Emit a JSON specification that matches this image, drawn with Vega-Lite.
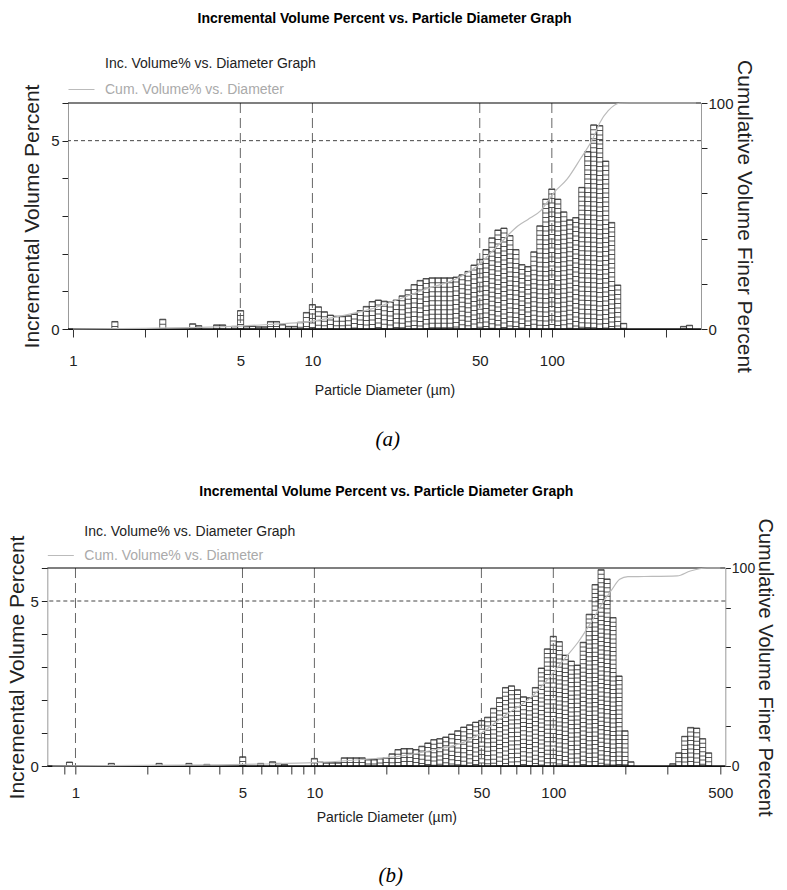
{
  "$schema": "https://vega.github.io/schema/vega-lite/v6.json",
  "padding": {"left": 6, "top": 11, "right": 0, "bottom": 0},
  "background": "white",
  "config": {"view": {"stroke": null}, "font": "Liberation Sans"},
  "datasets": {
    "barsA": [
      {"d": 1.496, "v": 0.20}, {"d": 2.371, "v": 0.26}, {"d": 3.162, "v": 0.14}, {"d": 3.350, "v": 0.09},
      {"d": 3.981, "v": 0.11}, {"d": 4.217, "v": 0.11}, {"d": 4.732, "v": 0.07}, {"d": 5.012, "v": 0.49},
      {"d": 5.309, "v": 0.07}, {"d": 5.623, "v": 0.08}, {"d": 5.957, "v": 0.06}, {"d": 6.310, "v": 0.06},
      {"d": 6.683, "v": 0.20}, {"d": 7.080, "v": 0.20}, {"d": 7.499, "v": 0.12}, {"d": 7.943, "v": 0.07},
      {"d": 8.414, "v": 0.07}, {"d": 8.913, "v": 0.18}, {"d": 9.441, "v": 0.44}, {"d": 10.0, "v": 0.65},
      {"d": 10.59, "v": 0.59}, {"d": 11.22, "v": 0.46}, {"d": 11.89, "v": 0.37}, {"d": 12.59, "v": 0.34},
      {"d": 13.34, "v": 0.34}, {"d": 14.13, "v": 0.35}, {"d": 14.96, "v": 0.40}, {"d": 15.85, "v": 0.49},
      {"d": 16.79, "v": 0.60}, {"d": 17.78, "v": 0.73}, {"d": 18.84, "v": 0.77}, {"d": 19.95, "v": 0.74},
      {"d": 21.14, "v": 0.72}, {"d": 22.39, "v": 0.77}, {"d": 23.71, "v": 0.88}, {"d": 25.12, "v": 1.04},
      {"d": 26.61, "v": 1.18}, {"d": 28.18, "v": 1.29}, {"d": 29.85, "v": 1.34}, {"d": 31.62, "v": 1.36},
      {"d": 33.50, "v": 1.36}, {"d": 35.48, "v": 1.36}, {"d": 37.58, "v": 1.36}, {"d": 39.81, "v": 1.38},
      {"d": 42.17, "v": 1.44}, {"d": 44.67, "v": 1.53}, {"d": 47.32, "v": 1.70}, {"d": 50.12, "v": 1.85},
      {"d": 53.09, "v": 2.11}, {"d": 56.23, "v": 2.42}, {"d": 59.57, "v": 2.63}, {"d": 63.10, "v": 2.68},
      {"d": 66.83, "v": 2.48}, {"d": 70.79, "v": 2.11}, {"d": 74.99, "v": 1.71}, {"d": 79.43, "v": 1.66},
      {"d": 84.14, "v": 2.05}, {"d": 89.13, "v": 2.74}, {"d": 94.41, "v": 3.45}, {"d": 100.0, "v": 3.72},
      {"d": 105.9, "v": 3.45}, {"d": 112.2, "v": 3.11}, {"d": 118.9, "v": 2.90}, {"d": 125.9, "v": 2.96},
      {"d": 133.4, "v": 3.76}, {"d": 141.3, "v": 4.71}, {"d": 149.6, "v": 5.42}, {"d": 158.5, "v": 5.40},
      {"d": 167.9, "v": 4.46}, {"d": 177.8, "v": 2.83}, {"d": 188.4, "v": 1.17}, {"d": 199.5, "v": 0.15},
      {"d": 354.8, "v": 0.07}, {"d": 375.8, "v": 0.10}
    ],
    "cumA": [
      {"d": 1, "c": 0}, {"d": 2, "c": 0.3}, {"d": 3, "c": 0.6}, {"d": 4, "c": 0.9}, {"d": 5, "c": 1.3},
      {"d": 7, "c": 2.2}, {"d": 9.2, "c": 3.0}, {"d": 12.9, "c": 5.6}, {"d": 17.5, "c": 8.8},
      {"d": 21.8, "c": 12.3}, {"d": 29.9, "c": 17.7}, {"d": 39.7, "c": 22.1}, {"d": 43.7, "c": 24.5},
      {"d": 48, "c": 27.3}, {"d": 61.5, "c": 38.5}, {"d": 72.3, "c": 45.7}, {"d": 79.5, "c": 48.5},
      {"d": 89.9, "c": 52.4}, {"d": 102.3, "c": 60.5}, {"d": 116, "c": 66.4}, {"d": 131.5, "c": 75.2},
      {"d": 149.3, "c": 84.8}, {"d": 158.9, "c": 91.4}, {"d": 172, "c": 96.6}, {"d": 192, "c": 99.9},
      {"d": 210, "c": 100}, {"d": 400, "c": 100}
    ],
    "gridA": [{"d": 5}, {"d": 10}, {"d": 50}, {"d": 100}],
    "barsB": [
      {"d": 0.944, "v": 0.12}, {"d": 1.413, "v": 0.08}, {"d": 2.239, "v": 0.08}, {"d": 2.985, "v": 0.08},
      {"d": 3.548, "v": 0.05}, {"d": 5.012, "v": 0.28}, {"d": 5.957, "v": 0.08}, {"d": 6.683, "v": 0.13},
      {"d": 7.080, "v": 0.08}, {"d": 7.499, "v": 0.05}, {"d": 10.0, "v": 0.23}, {"d": 10.59, "v": 0.12},
      {"d": 11.22, "v": 0.10}, {"d": 11.89, "v": 0.10}, {"d": 12.59, "v": 0.10}, {"d": 13.34, "v": 0.25},
      {"d": 14.13, "v": 0.25}, {"d": 14.96, "v": 0.25}, {"d": 15.85, "v": 0.25}, {"d": 16.79, "v": 0.20},
      {"d": 17.78, "v": 0.20}, {"d": 18.84, "v": 0.23}, {"d": 19.95, "v": 0.25}, {"d": 21.14, "v": 0.37},
      {"d": 22.39, "v": 0.50}, {"d": 23.71, "v": 0.53}, {"d": 25.12, "v": 0.53}, {"d": 26.61, "v": 0.50},
      {"d": 28.18, "v": 0.60}, {"d": 29.85, "v": 0.70}, {"d": 31.62, "v": 0.80}, {"d": 33.50, "v": 0.83},
      {"d": 35.48, "v": 0.88}, {"d": 37.58, "v": 0.97}, {"d": 39.81, "v": 1.07}, {"d": 42.17, "v": 1.18},
      {"d": 44.67, "v": 1.25}, {"d": 47.32, "v": 1.33}, {"d": 50.12, "v": 1.38}, {"d": 53.09, "v": 1.48},
      {"d": 56.23, "v": 1.75}, {"d": 59.57, "v": 2.07}, {"d": 63.10, "v": 2.38}, {"d": 66.83, "v": 2.43},
      {"d": 70.79, "v": 2.31}, {"d": 74.99, "v": 2.10}, {"d": 79.43, "v": 2.07}, {"d": 84.14, "v": 2.38},
      {"d": 89.13, "v": 2.97}, {"d": 94.41, "v": 3.55}, {"d": 100.0, "v": 3.93}, {"d": 105.9, "v": 3.77},
      {"d": 112.2, "v": 3.36}, {"d": 118.9, "v": 3.18}, {"d": 125.9, "v": 3.06}, {"d": 133.4, "v": 3.75},
      {"d": 141.3, "v": 4.60}, {"d": 149.6, "v": 5.50}, {"d": 158.5, "v": 5.95}, {"d": 167.9, "v": 5.67},
      {"d": 177.8, "v": 4.50}, {"d": 188.4, "v": 2.73}, {"d": 199.5, "v": 1.07}, {"d": 211.3, "v": 0.13},
      {"d": 316.2, "v": 0.07}, {"d": 335.0, "v": 0.40}, {"d": 354.8, "v": 0.90}, {"d": 375.8, "v": 1.17},
      {"d": 398.1, "v": 1.15}, {"d": 421.7, "v": 0.83}, {"d": 446.7, "v": 0.40}
    ],
    "cumB": [
      {"d": 0.8, "c": 0}, {"d": 2, "c": 0.3}, {"d": 4, "c": 0.6}, {"d": 6, "c": 1.0}, {"d": 10, "c": 1.7},
      {"d": 18, "c": 3.8}, {"d": 21.7, "c": 4.6}, {"d": 28.9, "c": 7.2}, {"d": 46.4, "c": 14.3},
      {"d": 63.6, "c": 26}, {"d": 82, "c": 35.4}, {"d": 96.1, "c": 44.6}, {"d": 112.5, "c": 54.7},
      {"d": 127.8, "c": 63}, {"d": 145, "c": 73.2}, {"d": 164.4, "c": 84.2}, {"d": 175.2, "c": 88.8},
      {"d": 189.6, "c": 94.3}, {"d": 205.3, "c": 95.6}, {"d": 240, "c": 95.7}, {"d": 330, "c": 96},
      {"d": 374.5, "c": 98.5}, {"d": 438.7, "c": 100}, {"d": 500, "c": 100}
    ],
    "gridB": [{"d": 1}, {"d": 5}, {"d": 10}, {"d": 50}, {"d": 100}]
  },
  "vconcat": [
    {
      "title": {"text": "(a)", "orient": "bottom", "anchor": "middle", "font": "Liberation Serif", "fontStyle": "italic", "fontWeight": "normal", "fontSize": 21, "color": "black", "offset": 32},
      "vconcat": [
        {
          "width": 633, "height": 226,
          "title": {"text": "Incremental Volume Percent vs. Particle Diameter Graph", "font": "Liberation Sans", "fontSize": 14, "fontWeight": "bold", "color": "black", "anchor": "middle", "offset": 34},
          "layer": [
            {
              "data": {"name": "barsA"},
              "mark": {"type": "bar", "width": 6.09},
              "encoding": {
                "x": {"field": "d", "type": "quantitative", "scale": {"type": "log", "domain": [1, 400], "nice": false},
                  "axis": {"title": "Particle Diameter (µm)", "titleFont": "Liberation Sans", "titleFontSize": 14, "titleFontWeight": "normal", "titleColor": "#222", "titlePadding": 15, "values": [1,2,3,4,5,6,7,8,9,10,20,30,40,50,60,70,80,90,100,200,300], "labelExpr": "(datum.value == 1 || datum.value == 5 || datum.value == 10 || datum.value == 50 || datum.value == 100) ? ('' + datum.value) : ''", "labelFont": "Liberation Sans", "labelFontSize": 15, "labelColor": "#222", "labelPadding": 16, "labelOverlap": false, "labelFlush": false, "tickSize": 8, "tickColor": "#333", "domainColor": "#111", "grid": false}},
                "y": {"field": "v", "type": "quantitative", "scale": {"domain": [0, 6]},
                  "axis": {"orient": "left", "title": "Incremental Volume Percent", "titleFont": "Liberation Sans", "titleFontSize": 21, "titleFontWeight": "normal", "titleColor": "#222", "titlePadding": 8,
                    "values": [0,1,2,3,4,5,6],
                    "labelExpr": "datum.value == 0 || datum.value == 5 ? '' + datum.value : ''",
                    "labelFont": "Liberation Sans", "labelFontSize": 15, "labelColor": "#222", "labelPadding": 3,
                    "tickSize": 6, "tickColor": "#222", "domainColor": "#999", "grid": false}},
                "color": {"datum": "Inc. Volume% vs. Diameter Graph",
                  "scale": {"domain": ["Inc. Volume% vs. Diameter Graph", "Cum. Volume% vs. Diameter"], "range": ["white", "#bbbbbb"]},
                  "legend": {"title": null, "orient": "none", "legendX": 0, "legendY": -53, "direction": "vertical", "symbolSize": 676, "labelFont": "Liberation Sans", "labelFontSize": 14, "labelLimit": 400, "labelOffset": 10, "rowPadding": 2,
                    "encode": {
                      "symbols": {"update": {
                        "shape": {"signal": "datum.value == 'Inc. Volume% vs. Diameter Graph' ? 'M-1,-0.65H1V0.65H-1Z M-1,-0.43H1 M-1,-0.22H1 M-1,0H1 M-1,0.22H1 M-1,0.43H1' : 'stroke'"},
                        "stroke": {"signal": "datum.value == 'Inc. Volume% vs. Diameter Graph' ? '#333' : '#bbbbbb'"},
                        "fill": {"value": "transparent"},
                        "strokeWidth": {"value": 1}}},
                      "labels": {"update": {"fill": {"signal": "datum.value == 'Inc. Volume% vs. Diameter Graph' ? '#222' : '#aaaaaa'"}}}}}}
              }
            },
            {
              "data": {"name": "gridA"},
              "mark": {"type": "rule", "color": "#666", "strokeDash": [10, 5], "strokeWidth": 1},
              "encoding": {"x": {"field": "d", "type": "quantitative", "scale": {"type": "log", "domain": [1, 400], "nice": false},
                  "axis": {"title": "Particle Diameter (µm)", "titleFont": "Liberation Sans", "titleFontSize": 14, "titleFontWeight": "normal", "titleColor": "#222", "titlePadding": 15, "values": [1,2,3,4,5,6,7,8,9,10,20,30,40,50,60,70,80,90,100,200,300], "labelExpr": "(datum.value == 1 || datum.value == 5 || datum.value == 10 || datum.value == 50 || datum.value == 100) ? ('' + datum.value) : ''", "labelFont": "Liberation Sans", "labelFontSize": 15, "labelColor": "#222", "labelPadding": 16, "labelOverlap": false, "labelFlush": false, "tickSize": 8, "tickColor": "#333", "domainColor": "#111", "grid": false}}}
            },
            {
              "data": {"values": [{}]},
              "mark": {"type": "rule", "color": "#444", "strokeDash": [4, 3], "strokeWidth": 1},
              "encoding": {"y": {"datum": 5, "type": "quantitative", "scale": {"domain": [0, 6]}, "axis": null}}
            },
            {
              "data": {"name": "barsA"},
              "mark": {"type": "rule", "strokeWidth": 6.09, "strokeDash": [1, 3.5], "color": "#555", "strokeCap": "butt"},
              "encoding": {
                "x": {"field": "d", "type": "quantitative", "scale": {"type": "log", "domain": [1, 400], "nice": false},
                  "axis": {"title": "Particle Diameter (µm)", "titleFont": "Liberation Sans", "titleFontSize": 14, "titleFontWeight": "normal", "titleColor": "#222", "titlePadding": 15, "values": [1,2,3,4,5,6,7,8,9,10,20,30,40,50,60,70,80,90,100,200,300], "labelExpr": "(datum.value == 1 || datum.value == 5 || datum.value == 10 || datum.value == 50 || datum.value == 100) ? ('' + datum.value) : ''", "labelFont": "Liberation Sans", "labelFontSize": 15, "labelColor": "#222", "labelPadding": 16, "labelOverlap": false, "labelFlush": false, "tickSize": 8, "tickColor": "#333", "domainColor": "#111", "grid": false}},
                "y": {"field": "v", "type": "quantitative", "scale": {"domain": [0, 6]}, "axis": null},
                "y2": {"datum": 0}
              }
            },
            {
              "data": {"name": "barsA"},
              "mark": {"type": "bar", "width": 6.09, "fill": "transparent", "stroke": "#333", "strokeWidth": 0.8},
              "encoding": {
                "x": {"field": "d", "type": "quantitative", "scale": {"type": "log", "domain": [1, 400], "nice": false},
                  "axis": {"title": "Particle Diameter (µm)", "titleFont": "Liberation Sans", "titleFontSize": 14, "titleFontWeight": "normal", "titleColor": "#222", "titlePadding": 15, "values": [1,2,3,4,5,6,7,8,9,10,20,30,40,50,60,70,80,90,100,200,300], "labelExpr": "(datum.value == 1 || datum.value == 5 || datum.value == 10 || datum.value == 50 || datum.value == 100) ? ('' + datum.value) : ''", "labelFont": "Liberation Sans", "labelFontSize": 15, "labelColor": "#222", "labelPadding": 16, "labelOverlap": false, "labelFlush": false, "tickSize": 8, "tickColor": "#333", "domainColor": "#111", "grid": false}},
                "y": {"field": "v", "type": "quantitative", "scale": {"domain": [0, 6]}, "axis": null}
              }
            },
            {
              "data": {"values": [{}]},
              "mark": {"type": "rule", "color": "black", "strokeWidth": 1.2},
              "encoding": {"y": {"datum": 6, "type": "quantitative", "scale": {"domain": [0, 6]}, "axis": null}}
            },
            {
              "data": {"values": [{}]},
              "mark": {"type": "rule", "color": "#111", "strokeWidth": 1.5},
              "encoding": {"y": {"datum": 0, "type": "quantitative", "scale": {"domain": [0, 6]}, "axis": null}}
            },
            {
              "data": {"name": "cumA"},
              "mark": {"type": "line", "interpolate": "monotone", "strokeWidth": 1.2},
              "encoding": {
                "x": {"field": "d", "type": "quantitative", "scale": {"type": "log", "domain": [1, 400], "nice": false},
                  "axis": {"title": "Particle Diameter (µm)", "titleFont": "Liberation Sans", "titleFontSize": 14, "titleFontWeight": "normal", "titleColor": "#222", "titlePadding": 15, "values": [1,2,3,4,5,6,7,8,9,10,20,30,40,50,60,70,80,90,100,200,300], "labelExpr": "(datum.value == 1 || datum.value == 5 || datum.value == 10 || datum.value == 50 || datum.value == 100) ? ('' + datum.value) : ''", "labelFont": "Liberation Sans", "labelFontSize": 15, "labelColor": "#222", "labelPadding": 16, "labelOverlap": false, "labelFlush": false, "tickSize": 8, "tickColor": "#333", "domainColor": "#111", "grid": false}},
                "y": {"field": "c", "type": "quantitative", "scale": {"domain": [0, 100]},
                  "axis": {"orient": "right", "title": "Cumulative Volume Finer Percent", "titleFont": "Liberation Sans", "titleFontSize": 21, "titleFontWeight": "normal", "titleColor": "#222", "titlePadding": 0,
                    "values": [0,20,40,60,80,100],
                    "labelExpr": "datum.value == 0 || datum.value == 100 ? '' + datum.value : ''",
                    "labelFont": "Liberation Sans", "labelFontSize": 15, "labelColor": "#222", "labelPadding": 1,
                    "tickSize": 6, "tickColor": "#222", "domainColor": "#999", "grid": false}},
                "color": {"datum": "Cum. Volume% vs. Diameter"}
              }
            }
          ],
          "resolve": {"scale": {"y": "independent"}}
        }
      ]
    },
    {
      "title": {"text": "(b)", "orient": "bottom", "anchor": "middle", "font": "Liberation Serif", "fontStyle": "italic", "fontWeight": "normal", "fontSize": 21, "color": "black", "offset": 41},
      "vconcat": [
        {
          "width": 678, "height": 198,
          "title": {"text": "Incremental Volume Percent vs. Particle Diameter Graph", "font": "Liberation Sans", "fontSize": 14, "fontWeight": "bold", "color": "black", "anchor": "middle", "offset": 19},
          "layer": [
            {
              "data": {"name": "barsB"},
              "mark": {"type": "bar", "width": 6.07},
              "encoding": {
                "x": {"field": "d", "type": "quantitative", "scale": {"type": "log", "domain": [0.8, 500], "nice": false},
                  "axis": {"title": "Particle Diameter (µm)", "titleFont": "Liberation Sans", "titleFontSize": 14, "titleFontWeight": "normal", "titleColor": "#222", "titlePadding": 10, "values": [0.9,1,2,3,4,5,6,7,8,9,10,20,30,40,50,60,70,80,90,100,200,300,500], "labelExpr": "(datum.value == 1 || datum.value == 5 || datum.value == 10 || datum.value == 50 || datum.value == 100 || datum.value == 500) ? ('' + datum.value) : ''", "labelFont": "Liberation Sans", "labelFontSize": 15, "labelColor": "#222", "labelPadding": 11, "labelOverlap": false, "labelFlush": false, "tickSize": 8, "tickColor": "#333", "domainColor": "#111", "grid": false}},
                "y": {"field": "v", "type": "quantitative", "scale": {"domain": [0, 6]},
                  "axis": {"orient": "left", "title": "Incremental Volume Percent", "titleFont": "Liberation Sans", "titleFontSize": 21, "titleFontWeight": "normal", "titleColor": "#222", "titlePadding": 2,
                    "values": [0,1,2,3,4,5,6],
                    "labelExpr": "datum.value == 0 || datum.value == 5 ? '' + datum.value : ''",
                    "labelFont": "Liberation Sans", "labelFontSize": 15, "labelColor": "#222", "labelPadding": 3,
                    "tickSize": 6, "tickColor": "#222", "domainColor": "#999", "grid": false}},
                "color": {"datum": "Inc. Volume% vs. Diameter Graph",
                  "scale": {"domain": ["Inc. Volume% vs. Diameter Graph", "Cum. Volume% vs. Diameter"], "range": ["white", "#bbbbbb"]},
                  "legend": {"title": null, "orient": "none", "legendX": 0, "legendY": -50, "direction": "vertical", "symbolSize": 676, "labelFont": "Liberation Sans", "labelFontSize": 14, "labelLimit": 400, "labelOffset": 10, "rowPadding": -2,
                    "encode": {
                      "symbols": {"update": {
                        "shape": {"signal": "datum.value == 'Inc. Volume% vs. Diameter Graph' ? 'M-1,-0.65H1V0.65H-1Z M-1,-0.43H1 M-1,-0.22H1 M-1,0H1 M-1,0.22H1 M-1,0.43H1' : 'stroke'"},
                        "stroke": {"signal": "datum.value == 'Inc. Volume% vs. Diameter Graph' ? '#333' : '#bbbbbb'"},
                        "fill": {"value": "transparent"},
                        "strokeWidth": {"value": 1}}},
                      "labels": {"update": {"fill": {"signal": "datum.value == 'Inc. Volume% vs. Diameter Graph' ? '#222' : '#aaaaaa'"}}}}}}
              }
            },
            {
              "data": {"name": "gridB"},
              "mark": {"type": "rule", "color": "#666", "strokeDash": [10, 5], "strokeWidth": 1},
              "encoding": {"x": {"field": "d", "type": "quantitative", "scale": {"type": "log", "domain": [0.8, 500], "nice": false},
                  "axis": {"title": "Particle Diameter (µm)", "titleFont": "Liberation Sans", "titleFontSize": 14, "titleFontWeight": "normal", "titleColor": "#222", "titlePadding": 10, "values": [0.9,1,2,3,4,5,6,7,8,9,10,20,30,40,50,60,70,80,90,100,200,300,500], "labelExpr": "(datum.value == 1 || datum.value == 5 || datum.value == 10 || datum.value == 50 || datum.value == 100 || datum.value == 500) ? ('' + datum.value) : ''", "labelFont": "Liberation Sans", "labelFontSize": 15, "labelColor": "#222", "labelPadding": 11, "labelOverlap": false, "labelFlush": false, "tickSize": 8, "tickColor": "#333", "domainColor": "#111", "grid": false}}}
            },
            {
              "data": {"values": [{}]},
              "mark": {"type": "rule", "color": "#444", "strokeDash": [4, 3], "strokeWidth": 1},
              "encoding": {"y": {"datum": 5, "type": "quantitative", "scale": {"domain": [0, 6]}, "axis": null}}
            },
            {
              "data": {"name": "barsB"},
              "mark": {"type": "rule", "strokeWidth": 6.07, "strokeDash": [1, 3.2], "color": "#555", "strokeCap": "butt"},
              "encoding": {
                "x": {"field": "d", "type": "quantitative", "scale": {"type": "log", "domain": [0.8, 500], "nice": false},
                  "axis": {"title": "Particle Diameter (µm)", "titleFont": "Liberation Sans", "titleFontSize": 14, "titleFontWeight": "normal", "titleColor": "#222", "titlePadding": 10, "values": [0.9,1,2,3,4,5,6,7,8,9,10,20,30,40,50,60,70,80,90,100,200,300,500], "labelExpr": "(datum.value == 1 || datum.value == 5 || datum.value == 10 || datum.value == 50 || datum.value == 100 || datum.value == 500) ? ('' + datum.value) : ''", "labelFont": "Liberation Sans", "labelFontSize": 15, "labelColor": "#222", "labelPadding": 11, "labelOverlap": false, "labelFlush": false, "tickSize": 8, "tickColor": "#333", "domainColor": "#111", "grid": false}},
                "y": {"field": "v", "type": "quantitative", "scale": {"domain": [0, 6]}, "axis": null},
                "y2": {"datum": 0}
              }
            },
            {
              "data": {"name": "barsB"},
              "mark": {"type": "bar", "width": 6.07, "fill": "transparent", "stroke": "#333", "strokeWidth": 0.8},
              "encoding": {
                "x": {"field": "d", "type": "quantitative", "scale": {"type": "log", "domain": [0.8, 500], "nice": false},
                  "axis": {"title": "Particle Diameter (µm)", "titleFont": "Liberation Sans", "titleFontSize": 14, "titleFontWeight": "normal", "titleColor": "#222", "titlePadding": 10, "values": [0.9,1,2,3,4,5,6,7,8,9,10,20,30,40,50,60,70,80,90,100,200,300,500], "labelExpr": "(datum.value == 1 || datum.value == 5 || datum.value == 10 || datum.value == 50 || datum.value == 100 || datum.value == 500) ? ('' + datum.value) : ''", "labelFont": "Liberation Sans", "labelFontSize": 15, "labelColor": "#222", "labelPadding": 11, "labelOverlap": false, "labelFlush": false, "tickSize": 8, "tickColor": "#333", "domainColor": "#111", "grid": false}},
                "y": {"field": "v", "type": "quantitative", "scale": {"domain": [0, 6]}, "axis": null}
              }
            },
            {
              "data": {"values": [{}]},
              "mark": {"type": "rule", "color": "black", "strokeWidth": 1.2},
              "encoding": {"y": {"datum": 6, "type": "quantitative", "scale": {"domain": [0, 6]}, "axis": null}}
            },
            {
              "data": {"values": [{}]},
              "mark": {"type": "rule", "color": "#111", "strokeWidth": 1.5},
              "encoding": {"y": {"datum": 0, "type": "quantitative", "scale": {"domain": [0, 6]}, "axis": null}}
            },
            {
              "data": {"name": "cumB"},
              "mark": {"type": "line", "interpolate": "monotone", "strokeWidth": 1.2},
              "encoding": {
                "x": {"field": "d", "type": "quantitative", "scale": {"type": "log", "domain": [0.8, 500], "nice": false},
                  "axis": {"title": "Particle Diameter (µm)", "titleFont": "Liberation Sans", "titleFontSize": 14, "titleFontWeight": "normal", "titleColor": "#222", "titlePadding": 10, "values": [0.9,1,2,3,4,5,6,7,8,9,10,20,30,40,50,60,70,80,90,100,200,300,500], "labelExpr": "(datum.value == 1 || datum.value == 5 || datum.value == 10 || datum.value == 50 || datum.value == 100 || datum.value == 500) ? ('' + datum.value) : ''", "labelFont": "Liberation Sans", "labelFontSize": 15, "labelColor": "#222", "labelPadding": 11, "labelOverlap": false, "labelFlush": false, "tickSize": 8, "tickColor": "#333", "domainColor": "#111", "grid": false}},
                "y": {"field": "c", "type": "quantitative", "scale": {"domain": [0, 100]},
                  "axis": {"orient": "right", "title": "Cumulative Volume Finer Percent", "titleFont": "Liberation Sans", "titleFontSize": 20, "titleFontWeight": "normal", "titleColor": "#222", "titlePadding": 0,
                    "values": [0,20,40,60,80,100],
                    "labelExpr": "datum.value == 0 || datum.value == 100 ? '' + datum.value : ''",
                    "labelFont": "Liberation Sans", "labelFontSize": 14, "labelColor": "#222", "labelPadding": 1,
                    "tickSize": 5, "tickColor": "#222", "domainColor": "#999", "grid": false}},
                "color": {"datum": "Cum. Volume% vs. Diameter"}
              }
            }
          ],
          "resolve": {"scale": {"y": "independent"}}
        }
      ]
    }
  ],
  "spacing": 35,
  "center": true,
  "resolve": {"scale": {"color": "independent"}, "legend": {"color": "independent"}}
}
